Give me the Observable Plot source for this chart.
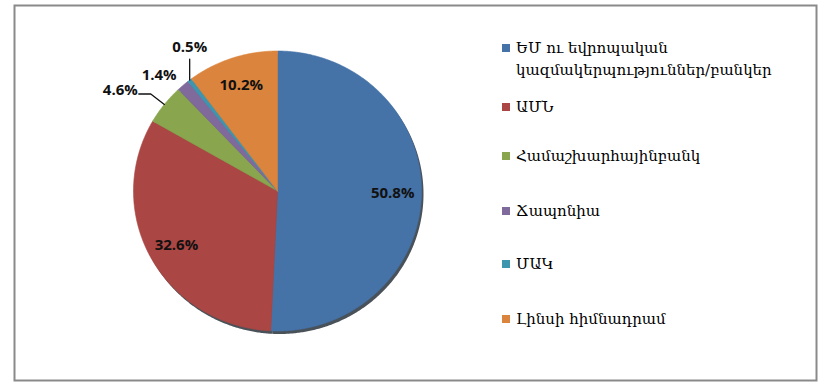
<!DOCTYPE html>
<html>
<head>
<meta charset="utf-8">
<script src="https://cdn.jsdelivr.net/npm/d3@7"></script>
<script src="https://cdn.jsdelivr.net/npm/@observablehq/plot@0.6"></script>
<style>
  html, body { margin: 0; padding: 0; background: #fff; }
  #wrap { position: relative; width: 826px; height: 387px; overflow: hidden; }
  #wrap svg { position: absolute; left: 0; top: 0; }
  #legend { position: absolute; left: 0; top: 0; width: 826px; height: 387px; pointer-events: none;
    font-family: "DejaVu Serif", "DejaVu Sans", serif; font-size: 15px; color: #000; }
  .item { position: absolute; left: 502px; display: flex; align-items: flex-start; }
  .sw { width: 8px; height: 8px; margin-top: 1px; margin-right: 6px; flex: none; }
  .txt { line-height: 22px; margin-top: -6px; white-space: nowrap; }
</style>
</head>
<body>
<div id="wrap"><div id="legend"></div></div>
<script>
// ---- data ----
const labels = [
  "ԵՄ ու եվրոպական կազմակերպություններ/բանկեր",
  "ԱՄՆ",
  "Համաշխարհայինբանկ",
  "Ճապոնիա",
  "ՄԱԿ",
  "Լինսի հիմնադրամ"
];
const legendLines = [
  ["ԵՄ ու եվրոպական", "կազմակերպություններ/բանկեր"],
  ["ԱՄՆ"],
  ["Համաշխարհայինբանկ"],
  ["Ճապոնիա"],
  ["ՄԱԿ"],
  ["Լինսի հիմնադրամ"]
];
const values = [50.8, 32.6, 4.6, 1.4, 0.5, 10.2];
const valueLabels = ["50.8%", "32.6%", "4.6%", "1.4%", "0.5%", "10.2%"];
const colors = ["#4572A7", "#AA4643", "#89A54E", "#80699B", "#3D96AE", "#DB843D"];

// ---- layout (code, not data) ----
const labelMode = ["inside", "inside", "elbow", "plain", "vertical", "inside"];
const legendTops = [43, 102, 151, 206, 259, 314];

const total = d3.sum(values);
let cum = 0;
const slices = values.map((v, i) => {
  const a0 = cum / total * 2 * Math.PI;
  cum += v;
  const a1 = cum / total * 2 * Math.PI;
  return {i, label: labels[i], value: v, a0, a1, mid: (a0 + a1) / 2};
});

const pts = [];
for (const s of slices) {
  pts.push({label: s.label, x: 0, y: 0});
  const n = Math.max(2, Math.ceil((s.a1 - s.a0) / (Math.PI / 360)));
  for (let k = 0; k <= n; k++) {
    const t = s.a0 + (s.a1 - s.a0) * k / n;
    pts.push({label: s.label, x: Math.sin(t), y: Math.cos(t)});
  }
  pts.push({label: s.label, x: 0, y: 0});
}

const Rx = 144, Ry = 140; // px per unit
const texts = [];
const leaders = [];
for (const s of slices) {
  const sx = Math.sin(s.mid), sy = Math.cos(s.mid);
  const mode = labelMode[s.i];
  const txt = valueLabels[s.i];
  if (mode === "inside") {
    texts.push({x: 0.8 * sx, y: 0.8 * sy, t: txt, anchor: "middle"});
  } else if (mode === "elbow") {
    const e = {x: sx, y: sy}, m = {x: 1.12 * sx, y: 1.12 * sy};
    const h = {x: m.x - 12 / Rx, y: m.y};
    leaders.push({id: s.i, ...e}, {id: s.i, ...m}, {id: s.i, ...h});
    texts.push({x: h.x - 1 / Rx, y: h.y + 4 / Ry, t: txt, anchor: "end"});
  } else if (mode === "vertical") {
    const e = {x: sx, y: sy}, top = {x: sx, y: sy + 21 / Ry};
    leaders.push({id: s.i, ...e}, {id: s.i, ...top});
    texts.push({x: top.x, y: top.y + 12 / Ry, t: txt, anchor: "middle"});
  } else {
    texts.push({x: 1.1 * sx + 3 / Rx, y: 1.1 * sy, t: txt, anchor: "end"});
  }
}

const textOpts = {x: "x", y: "y", text: "t", fill: "#111",
  fontFamily: "'Open Sans', Lato, sans-serif", fontWeight: "bold", fontSize: 15};

const cx = 277, cy = 190.5;
const chart = Plot.plot({
  width: 826,
  height: 387,
  marginLeft: 14, marginTop: 5, marginRight: 10, marginBottom: 7,
  x: {domain: [-1, 1], range: [cx - Rx, cx + Rx], axis: null},
  y: {domain: [-1, 1], range: [cy + Ry, cy - Ry], axis: null},
  color: {domain: labels, range: colors},
  style: {background: "white", overflow: "visible"},
  marks: [
    Plot.frame({stroke: "#8a8a8a", strokeWidth: 2}),
    Plot.line(pts, {x: "x", y: "y", z: "label", fill: "#1c2530", stroke: "none", dx: 2, dy: 3, fillOpacity: 0.8}),
    Plot.line(pts, {x: "x", y: "y", z: "label", fill: "label", stroke: "label", strokeWidth: 0.6}),
    Plot.line(leaders, {x: "x", y: "y", z: "id", stroke: "#111", strokeWidth: 1.3}),
    Plot.text(texts.filter(d => d.anchor === "middle"), {...textOpts, textAnchor: "middle"}),
    Plot.text(texts.filter(d => d.anchor === "end"), {...textOpts, textAnchor: "end"})
  ]
});
document.getElementById("wrap").prepend(chart);

// legend
const legend = document.getElementById("legend");
labels.forEach((l, i) => {
  const item = document.createElement("div");
  item.className = "item";
  item.style.top = legendTops[i] + "px";
  const sw = document.createElement("div");
  sw.className = "sw";
  sw.style.background = colors[i];
  const txt = document.createElement("div");
  txt.className = "txt";
  txt.innerHTML = legendLines[i].join("<br>");
  item.appendChild(sw);
  item.appendChild(txt);
  legend.appendChild(item);
});
</script>
</body>
</html>
